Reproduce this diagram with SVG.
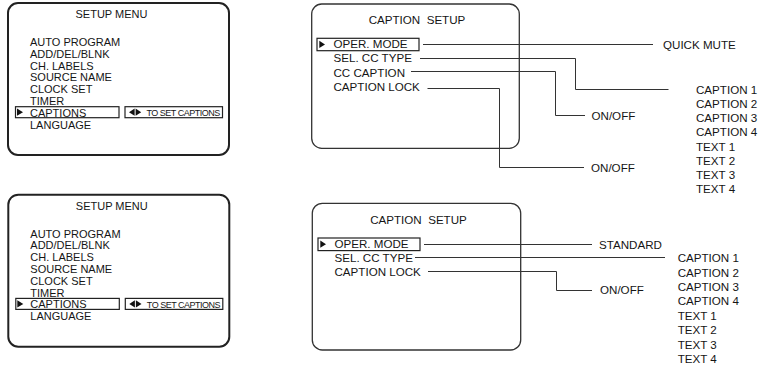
<svg xmlns="http://www.w3.org/2000/svg" width="760" height="366" viewBox="0 0 760 366">
<defs>
<style>
text{font-family:"Liberation Sans",Arial,sans-serif;fill:#151515}
.l{font-size:11px}
.r{font-size:11.6px}
.s{font-size:9px;letter-spacing:-0.5px}
.box{fill:#fff;stroke:#222;stroke-width:2}
.boxr{fill:#fff;stroke:#333;stroke-width:1.3}
.hl{fill:none;stroke:#222;stroke-width:1.2}
.tri{fill:#111}
.con path{fill:none;stroke:#333;stroke-width:1}
</style>
<g id="setupmenu">
<rect class="box" x="8" y="3" width="221" height="152" rx="10"/>
<text class="l" x="111.5" y="18" text-anchor="middle">SETUP MENU</text>
<text class="l" x="30" y="46">AUTO PROGRAM</text>
<text class="l" x="30" y="57.8">ADD/DEL/BLNK</text>
<text class="l" x="30" y="69.6">CH. LABELS</text>
<text class="l" x="30" y="81.4">SOURCE NAME</text>
<text class="l" x="30" y="93.2">CLOCK SET</text>
<text class="l" x="30" y="105">TIMER</text>
<rect class="hl" x="15.5" y="106.7" width="103.5" height="11"/>
<polygon class="tri" points="17,108.6 23,112.2 17,115.8"/>
<text class="l" x="30" y="116.7">CAPTIONS</text>
<text class="l" x="30" y="128.6">LANGUAGE</text>
<rect class="hl" x="125" y="106.7" width="97.5" height="11"/>
<polygon class="tri" points="134.6,108.6 129,112.2 134.6,115.8"/>
<polygon class="tri" points="135.6,108.6 141.2,112.2 135.6,115.8"/>
<text class="s" x="146.5" y="116.2">TO SET CAPTIONS</text>
</g>
</defs>
<rect width="760" height="366" fill="#fff"/>
<g id="setup-menu-1"><use href="#setupmenu"/></g>
<g id="setup-menu-2"><use href="#setupmenu" transform="translate(0.3,191.7)"/></g>
<g id="caption-setup-1">
<rect class="boxr" x="311.7" y="4" width="207.6" height="144.3" rx="10"/>
<text class="r" x="417" y="24.3" text-anchor="middle" xml:space="preserve">CAPTION  SETUP</text>
<rect class="hl" x="317" y="38.3" width="102" height="12.4"/>
<polygon class="tri" points="319.3,40.8 325,44.4 319.3,48"/>
<text class="r" x="333.5" y="48.3">OPER. MODE</text>
<text class="r" x="333.5" y="62.4">SEL. CC TYPE</text>
<text class="r" x="333.5" y="76.5">CC CAPTION</text>
<text class="r" x="333.5" y="90.6">CAPTION LOCK</text>
</g>
<g id="caption-setup-2">
<rect class="boxr" x="312.3" y="203.3" width="208.4" height="146.7" rx="10"/>
<text class="r" x="418.5" y="224" text-anchor="middle" xml:space="preserve">CAPTION  SETUP</text>
<rect class="hl" x="318" y="238" width="102" height="12.6"/>
<polygon class="tri" points="320.3,240.6 326,244.2 320.3,247.8"/>
<text class="r" x="334.5" y="248.2">OPER. MODE</text>
<text class="r" x="334.5" y="262.1">SEL. CC TYPE</text>
<text class="r" x="334.5" y="276">CAPTION LOCK</text>
</g>
<g id="opt-quick-mute"><text class="r" x="663" y="49">QUICK MUTE</text></g>
<g id="opt-cc-type-1">
<text class="r" x="696" y="93.7">CAPTION 1</text>
<text class="r" x="696" y="107.9">CAPTION 2</text>
<text class="r" x="696" y="122.1">CAPTION 3</text>
<text class="r" x="696" y="136.3">CAPTION 4</text>
<text class="r" x="696" y="150.5">TEXT 1</text>
<text class="r" x="696" y="164.7">TEXT 2</text>
<text class="r" x="696" y="178.9">TEXT 3</text>
<text class="r" x="696" y="193.1">TEXT 4</text>
</g>
<g id="opt-cc-caption"><text class="r" x="591.5" y="120">ON/OFF</text></g>
<g id="opt-lock-1"><text class="r" x="591" y="171.5">ON/OFF</text></g>
<g id="opt-standard"><text class="r" x="599" y="248.5">STANDARD</text></g>
<g id="opt-cc-type-2">
<text class="r" x="677.7" y="262.2">CAPTION 1</text>
<text class="r" x="677.7" y="276.6">CAPTION 2</text>
<text class="r" x="677.7" y="291">CAPTION 3</text>
<text class="r" x="677.7" y="305.4">CAPTION 4</text>
<text class="r" x="677.7" y="319.8">TEXT 1</text>
<text class="r" x="677.7" y="334.2">TEXT 2</text>
<text class="r" x="677.7" y="348.6">TEXT 3</text>
<text class="r" x="677.7" y="363">TEXT 4</text>
</g>
<g id="opt-lock-2"><text class="r" x="600" y="294">ON/OFF</text></g>
<g id="connectors" class="con">
<path d="M423,44.5H653"/>
<path d="M420,58.5H575.5V89.5H668.5"/>
<path d="M411,71.5H555.5V115.5H585"/>
<path d="M427.5,88.5H499.5V167.5H584"/>
<path d="M424,244.5H592"/>
<path d="M415,257.5H665"/>
<path d="M428,271.5H556.5V290.5H592"/>
</g>
</svg>
